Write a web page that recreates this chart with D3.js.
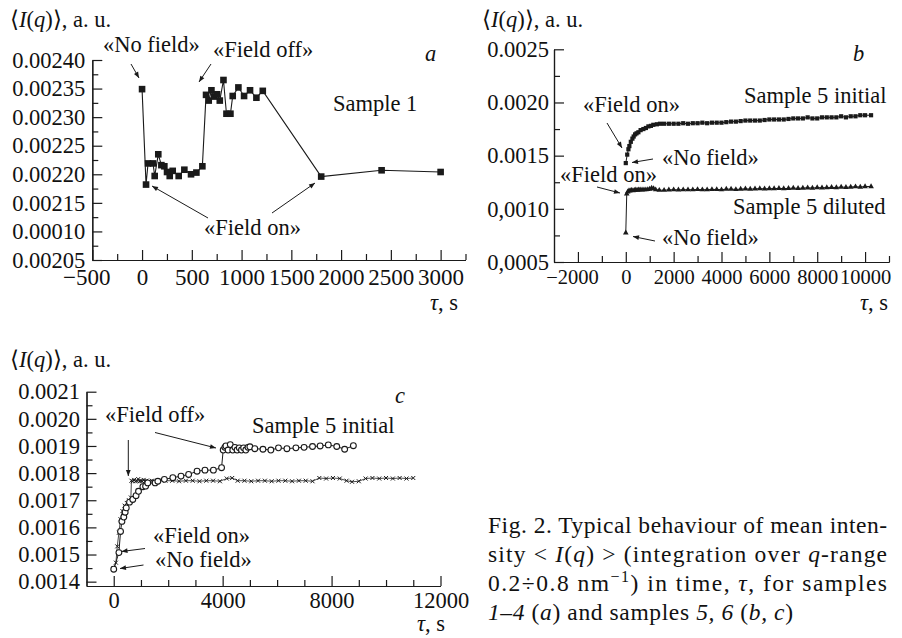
<!DOCTYPE html>
<html>
<head>
<meta charset="utf-8">
<script src="https://cdn.jsdelivr.net/npm/d3@7"></script>
<style>
  body { margin: 0; background: #fff; }
  svg text { font-family: "Liberation Serif", "Times New Roman", serif; font-size: 22.5px; fill: #111; }
  svg text.cap { font-size: 23.5px; }
  .domain, .tick line { stroke: #1a1a1a; stroke-width: 1.2; }
</style>
</head>
<body>
<div id="fig"></div>
<script>
// ---- panel a : Sample 1 ----
const sample1 = [[0,0.002349],[40,0.002182],[60,0.002219],[110,0.002219],[127,0.002197],[163,0.002235],
  [194,0.002216],[224,0.002214],[251,0.002204],[278,0.002197],[308,0.002206],[368,0.002197],[425,0.002208],
  [492,0.0022],[546,0.002203],[606,0.002214],[643,0.002339],[670,0.002329],[697,0.002347],[724,0.002336],
  [754,0.00234],[781,0.002329],[818,0.002365],[848,0.002306],[888,0.002306],[911,0.002337],[968,0.002352],
  [1025,0.002337],[1085,0.002347],[1149,0.002334],[1213,0.002346],[1800,0.002196],[2407,0.002207],[3000,0.002204]];
const aXTicks = [-500, 0, 500, 1000, 1500, 2000, 2500, 3000];
const aXLabels = ["\u2212500", "0", "500", "1000", "1500", "2000", "2500", "3000"];
const aXMinor = [-250, 250, 750, 1250, 1750, 2250, 2750, 3250];
const aYTicks = [0.00205, 0.0021, 0.00215, 0.0022, 0.00225, 0.0023, 0.00235, 0.0024];
const aYLabels = ["0.00205", "0.00010", "0.00215", "0.00220", "0.00225", "0.00230", "0.00235", "0.00240"];
const aYMinor = [0.002075, 0.002125, 0.002175, 0.002225, 0.002275, 0.002325, 0.002375];

// ---- panel b : Sample 5 initial / diluted ----
const s5initial = [[0,0.00143],[60,0.00151],[110,0.00156],[150,0.00159],[210,0.00163],[277,0.00166],[330,0.00168],
  [390,0.0017],[450,0.00171],[527,0.00172],[620,0.00174],[735,0.00175],[840,0.00176],[945,0.001775],[1050,0.00178],
  [1150,0.00179],[1300,0.001795],[1430,0.0018],[1600,0.0018],[1800,0.0018],[2000,0.0018],[2200,0.0018],
  [2400,0.001805],[2600,0.0018],[2800,0.001805],[3000,0.001805],[3200,0.00181],[3400,0.001805],[3600,0.00181],
  [3800,0.00181],[4000,0.00181],[4200,0.001815],[4400,0.00182],[4600,0.00182],[4800,0.001825],[5000,0.00183],
  [5200,0.00183],[5400,0.00183],[5600,0.00183],[5800,0.001835],[6000,0.00184],[6200,0.00184],[6400,0.00184],
  [6600,0.00184],[6800,0.001845],[7000,0.00185],[7200,0.00185],[7400,0.00185],[7600,0.00186],[7800,0.00185],
  [8000,0.00185],[8200,0.00186],[8400,0.00186],[8600,0.00186],[8800,0.00186],[9000,0.00187],[9200,0.00186],
  [9400,0.00187],[9600,0.00187],[9800,0.00188],[10000,0.00188],[10250,0.00188]];
const s5diluted = [[0,0.000775],[40,0.00114],[80,0.00116],[130,0.00117],[180,0.001172],[240,0.001175],[300,0.001172],
  [360,0.001175],[420,0.001178],[480,0.001175],[540,0.001178],[600,0.00118],[680,0.001178],[760,0.00118],
  [840,0.00118],[920,0.001182],[1000,0.001185],[1080,0.001195],[1160,0.00119],[1250,0.00118],[1400,0.001175],
  [1600,0.001175],[1800,0.001178],[2000,0.00118],[2200,0.001178],[2400,0.00118],[2600,0.00118],[2800,0.00118],
  [3000,0.001182],[3200,0.00118],[3400,0.00118],[3600,0.001182],[3800,0.001182],[4000,0.00118],[4200,0.001185],
  [4400,0.001185],[4600,0.001182],[4800,0.001185],[5000,0.001188],[5200,0.001185],[5400,0.001188],[5600,0.00119],
  [5800,0.001188],[6000,0.00119],[6200,0.00119],[6400,0.001192],[6600,0.00119],[6800,0.001192],[7000,0.001195],
  [7200,0.001192],[7400,0.001195],[7600,0.001198],[7800,0.001195],[8000,0.0012],[8200,0.001198],[8400,0.0012],
  [8600,0.001202],[8800,0.0012],[9000,0.001205],[9200,0.001202],[9400,0.001205],[9600,0.001208],[9800,0.001205],
  [10000,0.00121],[10250,0.00121]];
const bXTicks = [-2000, 0, 2000, 4000, 6000, 8000, 10000];
const bXLabels = ["\u22122000", "0", "2000", "4000", "6000", "8000", "10000"];
const bXMinor = [-1000, 1000, 3000, 5000, 7000, 9000, 11000];
const bYTicks = [0.0005, 0.001, 0.0015, 0.002, 0.0025];
const bYLabels = ["0,0005", "0,0010", "0.0015", "0.0020", "0.0025"];
const bYMinor = [0.00075, 0.00125, 0.00175, 0.00225];

// ---- panel c : Sample 5 initial, field off ----
const s5circles = [[0,0.001446],[190,0.001507],[250,0.001585],[300,0.001622],[370,0.001638],[420,0.001656],
  [460,0.001672],[580,0.001693],[700,0.001703],[820,0.001717],[910,0.001733],[1070,0.00175],[1170,0.001752],
  [1250,0.001764],[1520,0.001764],[1620,0.00177],[1860,0.001777],[2170,0.001783],[2470,0.001789],[2750,0.001795],
  [3060,0.001807],[3350,0.001811],[3660,0.001811],[3960,0.00182],[4020,0.001885],[4080,0.001895],[4120,0.0019],
  [4200,0.001885],[4280,0.001905],[4370,0.001885],[4450,0.001895],[4530,0.001885],[4610,0.001893],[4690,0.001885],
  [4770,0.001893],[4850,0.001885],[4930,0.001895],[5000,0.001897],[5180,0.00189],[5480,0.001888],[5770,0.001885],
  [6050,0.001893],[6360,0.00189],[6690,0.001893],[6990,0.001895],[7300,0.001898],[7580,0.0019],[7880,0.001904],
  [8190,0.001898],[8480,0.001888],[8800,0.001901]];
const s5crosses = [[0,0.00145],[80,0.00147],[130,0.00153],[190,0.00158],[250,0.00163],[320,0.00166],[400,0.00168],
  [480,0.00169],[560,0.0017],[630,0.00171],[650,0.001772],[700,0.00177],[750,0.001775],[800,0.00177],[850,0.001772],
  [900,0.001778],[950,0.00177],[1000,0.001772],[1050,0.00177],[1100,0.001775],[1150,0.00177],[1200,0.001772],
  [1300,0.00177],[1400,0.001772],[1500,0.00177],[1650,0.001772],[1900,0.001772],[2150,0.001772],[2400,0.00177],
  [2650,0.001772],[2900,0.001772],[3150,0.00177],[3400,0.001772],[3650,0.001772],[3900,0.00177],[4150,0.00178],
  [4350,0.001782],[4550,0.001772],[4800,0.001772],[5050,0.00177],[5300,0.001772],[5550,0.001772],[5800,0.00177],
  [6050,0.001772],[6300,0.001772],[6550,0.00177],[6800,0.001772],[7050,0.001772],[7300,0.00177],[7550,0.001782],
  [7800,0.00178],[8050,0.001782],[8300,0.00178],[8550,0.001772],[8750,0.001768],[9000,0.00177],[9250,0.00178],
  [9500,0.001782],[9750,0.00178],[10000,0.001782],[10250,0.00178],[10500,0.001782],[10750,0.00178],[11000,0.001782]];
const cXTicks = [0, 4000, 8000, 12000];
const cXLabels = ["0", "4000", "8000", "12000"];
const cXMinor = [1000, 2000, 3000, 5000, 6000, 7000, 9000, 10000, 11000];
const cYTicks = [0.0014, 0.0015, 0.0016, 0.0017, 0.0018, 0.0019, 0.002, 0.0021];
const cYLabels = ["0.0014", "0.0015", "0.0016", "0.0017", "0.0018", "0.0019", "0.0020", "0.0021"];
const cYMinor = [0.00145, 0.00155, 0.00165, 0.00175, 0.00185, 0.00195, 0.00205];

const ink = "#1a1a1a";
const svg = d3.select("#fig").append("svg").attr("width", 902).attr("height", 638);

svg.append("defs").append("marker")
    .attr("id", "ah").attr("viewBox", "0 0 10 10").attr("refX", 10).attr("refY", 5)
    .attr("markerWidth", 7).attr("markerHeight", 6).attr("markerUnits", "userSpaceOnUse")
    .attr("orient", "auto")
  .append("path").attr("d", "M0,1L10,5L0,9Z").attr("fill", ink);

function frame(c) {
    let x = d3.scaleLinear().domain(c.xd).range(c.xr);
    let y = d3.scaleLinear().domain(c.yd).range(c.yr);
    let gx = svg.append("g").attr("transform", "translate(0," + c.yr[0] + ")");
    gx.call(d3.axisBottom(x).tickValues(c.xMinor).tickSize(-6).tickSizeOuter(0).tickFormat(""));
    gx.append("g").call(d3.axisBottom(x).tickValues(c.xTicks).tickSize(-10).tickSizeOuter(0)
        .tickPadding(c.xPad).tickFormat((d, i) => c.xLabels[i]));
    gx.selectAll("text").attr("dx", d => d < 0 ? -6 : 0).style("font-size", c.xFont + "px");
    let gy = svg.append("g").attr("transform", "translate(" + c.xr[0] + ",0)");
    gy.call(d3.axisLeft(y).tickValues(c.yMinor).tickSize(-6).tickSizeOuter(0).tickFormat(""));
    gy.append("g").call(d3.axisLeft(y).tickValues(c.yTicks).tickSize(-10).tickSizeOuter(0)
        .tickPadding(c.yPad).tickFormat((d, i) => c.yLabels[i]));
    return {x, y};
}

function ylabel(px, py) {
    let t = svg.append("text").attr("x", px).attr("y", py);
    t.append("tspan").text("\u27E8");
    t.append("tspan").attr("font-style", "italic").text("I");
    t.append("tspan").text("(");
    t.append("tspan").attr("font-style", "italic").text("q");
    t.append("tspan").text(")\u27E9, a. u.");
}

function tau(px, py) {
    let t = svg.append("text").attr("x", px).attr("y", py);
    t.append("tspan").attr("font-style", "italic").text("\u03C4");
    t.append("tspan").text(", s");
}

function note(px, py, str, italic) {
    svg.append("text").attr("x", px).attr("y", py)
        .attr("font-style", italic ? "italic" : null).text(str);
}

function arrow(x1, y1, x2, y2) {
    svg.append("line").attr("x1", x1).attr("y1", y1).attr("x2", x2).attr("y2", y2)
        .attr("stroke", ink).attr("stroke-width", 1).attr("marker-end", "url(#ah)");
}

function trace(s, data, width) {
    svg.append("path").datum(data)
        .attr("fill", "none").attr("stroke", ink).attr("stroke-width", width)
        .attr("d", d3.line().x(d => s.x(d[0])).y(d => s.y(d[1])));
}

// ---------------- panel a ----------------
let sa = frame({xd: [-500, 3250], xr: [92.3, 465.5], yd: [0.00205, 0.0024], yr: [260, 60],
    xTicks: aXTicks, xLabels: aXLabels, xMinor: aXMinor, xPad: 9, xFont: 23,
    yTicks: aYTicks, yLabels: aYLabels, yMinor: aYMinor, yPad: 7});
trace(sa, sample1, 1.1);
svg.append("g").selectAll("rect").data(sample1).enter().append("rect")
    .attr("x", d => sa.x(d[0]) - 3.3).attr("y", d => sa.y(d[1]) - 3.3)
    .attr("width", 6.6).attr("height", 6.6).attr("fill", ink);
ylabel(10, 27);
tau(430, 310);
note(103, 52, "\u00ABNo field\u00BB");
note(213, 57, "\u00ABField off\u00BB");
note(425, 61, "a", true);
note(333, 111, "Sample 1");
note(204, 235, "\u00ABField on\u00BB");
arrow(131, 64, 139, 78);
arrow(211, 64, 199, 82);
arrow(208, 218, 152, 186);
arrow(272, 213, 315, 183);

// ---------------- panel b ----------------
let sb = frame({xd: [-3000, 11000], xr: [554, 889], yd: [0.0005, 0.0025], yr: [262, 49.3],
    xTicks: bXTicks, xLabels: bXLabels, xMinor: bXMinor, xPad: 7, xFont: 20.5,
    yTicks: bYTicks, yLabels: bYLabels, yMinor: bYMinor, yPad: 5});
trace(sb, s5initial, 1);
trace(sb, s5diluted, 1);
svg.append("g").selectAll("rect").data(s5initial).enter().append("rect")
    .attr("x", d => sb.x(d[0]) - 2.1).attr("y", d => sb.y(d[1]) - 2.1)
    .attr("width", 4.2).attr("height", 4.2).attr("fill", ink);
svg.append("g").selectAll("path").data(s5diluted).enter().append("path")
    .attr("transform", d => "translate(" + sb.x(d[0]) + "," + sb.y(d[1]) + ")")
    .attr("d", d3.symbol(d3.symbolTriangle, 14)).attr("fill", ink);
ylabel(482, 27);
tau(860, 310);
note(853, 61, "b", true);
note(744, 103, "Sample 5 initial");
note(583, 112, "\u00ABField on\u00BB");
note(662, 165, "\u00ABNo field\u00BB");
note(560, 182, "\u00ABField on\u00BB");
note(733, 214, "Sample 5 diluted");
note(662, 245, "\u00ABNo field\u00BB");
arrow(607, 123, 622, 148);
arrow(653, 159, 632, 162.5);
arrow(597, 187, 620, 193);
arrow(655, 241, 633, 236.5);

// ---------------- panel c ----------------
let sc = frame({xd: [-1000, 12000], xr: [86.5, 440.5], yd: [0.001384, 0.0021], yr: [586, 391.7],
    xTicks: cXTicks, xLabels: cXLabels, xMinor: cXMinor, xPad: 6, xFont: 22.5,
    yTicks: cYTicks, yLabels: cYLabels, yMinor: cYMinor, yPad: 6.5});
trace(sc, s5crosses, 0.8);
svg.append("g").selectAll("path").data(s5crosses).enter().append("path")
    .attr("transform", d => "translate(" + sc.x(d[0]) + "," + sc.y(d[1]) + ")")
    .attr("d", "M-2,-2L2,2M-2,2L2,-2")
    .attr("stroke", ink).attr("stroke-width", 1);
trace(sc, s5circles, 1);
svg.append("g").selectAll("circle").data(s5circles).enter().append("circle")
    .attr("cx", d => sc.x(d[0])).attr("cy", d => sc.y(d[1])).attr("r", 2.9)
    .attr("fill", "#fff").attr("stroke", ink).attr("stroke-width", 1.1);
ylabel(10, 367);
tau(417, 631);
note(395, 403, "c", true);
note(105, 422, "\u00ABField off\u00BB");
note(252, 433, "Sample 5 initial");
note(153, 543, "\u00ABField on\u00BB");
note(155, 567, "\u00ABNo field\u00BB");
arrow(128.3, 440, 128.3, 476);
arrow(155, 432.5, 216, 448);
arrow(145, 548.5, 121.5, 551.5);
arrow(143.5, 565, 120, 568.5);

// ---------------- caption ----------------
const capX = 488, capW = 399;
svg.append("text").attr("class", "cap").attr("x", capX).attr("y", 533)
    .attr("textLength", capW).attr("lengthAdjust", "spacing")
    .text("Fig. 2. Typical behaviour of mean inten-");
let l2 = svg.append("text").attr("class", "cap").attr("x", capX).attr("y", 562)
    .attr("textLength", capW).attr("lengthAdjust", "spacing");
l2.append("tspan").text("sity < ");
l2.append("tspan").attr("font-style", "italic").text("I");
l2.append("tspan").text("(");
l2.append("tspan").attr("font-style", "italic").text("q");
l2.append("tspan").text(") > (integration over ");
l2.append("tspan").attr("font-style", "italic").text("q");
l2.append("tspan").text("-range");
let l3 = svg.append("text").attr("class", "cap").attr("x", capX).attr("y", 591)
    .attr("textLength", capW).attr("lengthAdjust", "spacing");
l3.append("tspan").text("0.2\u00F70.8 nm");
l3.append("tspan").attr("dy", -9).attr("font-size", "16px").text("\u22121");
l3.append("tspan").attr("dy", 9).text(") in time, ");
l3.append("tspan").attr("font-style", "italic").text("\u03C4");
l3.append("tspan").text(", for samples");
let l4 = svg.append("text").attr("class", "cap").attr("x", capX).attr("y", 620)
    .attr("textLength", 305).attr("lengthAdjust", "spacing");
l4.append("tspan").attr("font-style", "italic").text("1\u20134");
l4.append("tspan").text(" (");
l4.append("tspan").attr("font-style", "italic").text("a");
l4.append("tspan").text(") and samples ");
l4.append("tspan").attr("font-style", "italic").text("5, 6");
l4.append("tspan").text(" (");
l4.append("tspan").attr("font-style", "italic").text("b, c");
l4.append("tspan").text(")");
</script>
</body>
</html>
